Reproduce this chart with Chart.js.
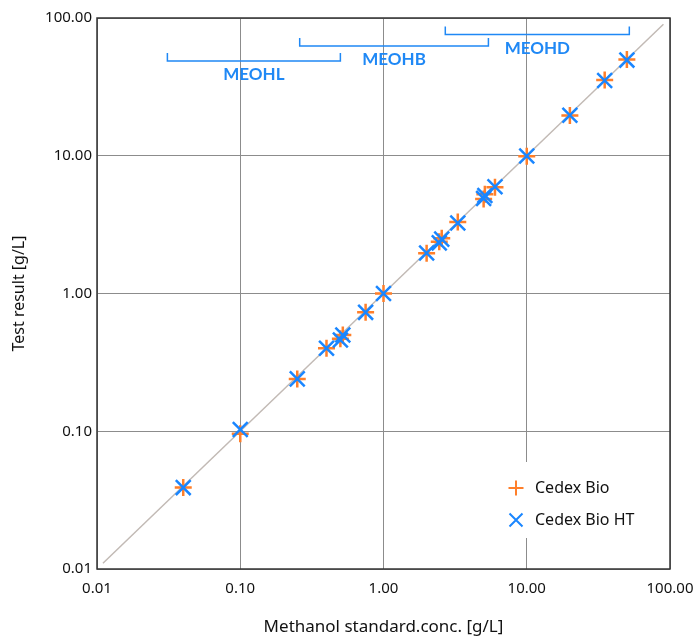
<!DOCTYPE html>
<html>
<head>
<meta charset="utf-8">
<script src="https://cdn.jsdelivr.net/npm/chart.js@4.4.0/dist/chart.umd.min.js"></script>
<style>
  html, body { margin: 0; padding: 0; background: #fff; }
  #wrap { width: 697px; height: 637px; }
</style>
</head>
<body>
<div id="wrap"><canvas id="myChart"></canvas></div>
<script>
// standard concentrations (x) and measured results (y) per analyser
const bioStandard = [0.04, 0.1, 0.25, 0.4, 0.5, 0.52, 0.75, 1, 2, 2.45, 2.55, 3.3, 5, 5.1, 6, 10, 20, 35, 50];
const bioResult   = [0.039, 0.096, 0.24, 0.40, 0.47, 0.50, 0.73, 1.0, 1.96, 2.38, 2.52, 3.3, 4.85, 5.25, 5.9, 9.9, 19.6, 35.5, 50];
const htStandard  = [0.04, 0.1, 0.25, 0.4, 0.5, 0.52, 0.75, 1, 2, 2.45, 2.55, 3.3, 5, 5.1, 6, 10, 20, 35, 50];
const htResult    = [0.039, 0.103, 0.24, 0.40, 0.46, 0.50, 0.73, 1.0, 1.97, 2.33, 2.48, 3.25, 4.9, 5.15, 5.95, 9.95, 19.7, 35.2, 49.5];

// identity line y = x
const identityX = [0.011, 90];

// decade ticks, shared by both axes
const tickValues = [0.01, 0.1, 1, 10, 100];
const tickLabels = ["0.01", "0.10", "1.00", "10.00", "100.00"];

// measuring ranges shown as brackets at the top
const rangeNames = ["MEOHL", "MEOHB", "MEOHD"];
const rangeFrom  = [0.031, 0.26, 2.7];
const rangeTo    = [0.5, 5.4, 52];

const ORANGE = "#ff7f2a";
const BLUE = "#1a86ff";
const RANGE_BLUE = "#1f88f5";
const FONT = "'Noto Sans', 'Liberation Sans', sans-serif";

const toPoints = (xs, ys) => xs.map((x, i) => ({ x: x, y: ys[i] }));

const decadeTicks = (scale) => {
    scale.ticks = tickValues.map((v) => ({ value: v }));
};
const tickText = (value) => {
    const idx = tickValues.findIndex((v) => Math.abs(v - value) < v * 1e-6);
    return idx >= 0 ? tickLabels[idx] : "";
};

// brackets + frame + legend
const overlayPlugin = {
    id: "overlay",
    afterDatasetsDraw(chart) {
        const { ctx, chartArea, scales } = chart;
        const lineOffsets = [43, 28, 16.5]; // px below chart top
        ctx.save();

        // range brackets
        ctx.strokeStyle = RANGE_BLUE;
        ctx.lineWidth = 1.5;
        ctx.fillStyle = RANGE_BLUE;
        ctx.font = "bold 17px Lato, 'Open Sans', sans-serif";
        ctx.textAlign = "center";
        ctx.textBaseline = "middle";
        rangeNames.forEach((name, i) => {
            const x1 = scales.x.getPixelForValue(rangeFrom[i]);
            const x2 = scales.x.getPixelForValue(rangeTo[i]);
            const y = chartArea.top + lineOffsets[i];
            ctx.beginPath();
            ctx.moveTo(x1, y - 8);
            ctx.lineTo(x1, y);
            ctx.lineTo(x2, y);
            ctx.lineTo(x2, y - 8);
            ctx.stroke();
            ctx.fillText(name, (x1 + x2) / 2, y + 14);
        });

        // legend box
        const lx = chartArea.right - 165;
        const ly = chartArea.bottom - 107;
        ctx.fillStyle = "#fff";
        ctx.fillRect(lx, ly, 160, 76);
        const items = [
            { label: "Cedex Bio", color: ORANGE, rot: false },
            { label: "Cedex Bio HT", color: BLUE, rot: true },
        ];
        items.forEach((it, i) => {
            const cx = lx + 11;
            const cy = ly + 26 + i * 32;
            ctx.strokeStyle = it.color;
            ctx.lineWidth = 2;
            ctx.beginPath();
            if (it.rot) {
                const r = 6.5;
                ctx.moveTo(cx - r, cy - r);
                ctx.lineTo(cx + r, cy + r);
                ctx.moveTo(cx - r, cy + r);
                ctx.lineTo(cx + r, cy - r);
            } else {
                const r = 7.5;
                ctx.moveTo(cx - r, cy);
                ctx.lineTo(cx + r, cy);
                ctx.moveTo(cx, cy - r);
                ctx.lineTo(cx, cy + r);
            }
            ctx.stroke();
            ctx.fillStyle = "#111";
            ctx.font = "16px " + FONT;
            ctx.textAlign = "left";
            ctx.textBaseline = "middle";
            ctx.fillText(it.label, cx + 19, cy);
        });

        // plot frame
        ctx.strokeStyle = "#333";
        ctx.lineWidth = 1.5;
        ctx.strokeRect(chartArea.left, chartArea.top,
            chartArea.right - chartArea.left, chartArea.bottom - chartArea.top);
        ctx.restore();
    },
};

const initChart = () => {
    const ctx = document.getElementById("myChart").getContext("2d");

    new Chart(ctx, {
        type: "scatter",
        data: {
            datasets: [
                {
                    label: "Cedex Bio",
                    data: toPoints(bioStandard, bioResult),
                    pointStyle: "cross",
                    pointRadius: 8.5,
                    pointBorderWidth: 2.5,
                    borderColor: ORANGE,
                    backgroundColor: ORANGE,
                    order: 2,
                },
                {
                    type: "scatter",
                    label: "Cedex Bio HT",
                    data: toPoints(htStandard, htResult),
                    pointStyle: "crossRot",
                    pointRadius: 10.5,
                    pointBorderWidth: 2.5,
                    borderColor: BLUE,
                    backgroundColor: BLUE,
                    order: 1,
                },
                {
                    type: "line",
                    label: "identity",
                    data: toPoints(identityX, identityX),
                    borderColor: "#c2bab5",
                    borderWidth: 1.5,
                    pointRadius: 0,
                    order: 3,
                },
            ],
        },
        options: {
            responsive: true,
            maintainAspectRatio: false,
            animation: false,
            layout: { padding: { left: 0, right: 27, top: 18, bottom: 0 } },
            plugins: {
                legend: { display: false },
                tooltip: { enabled: false },
            },
            scales: {
                x: {
                    type: "logarithmic",
                    min: 0.01,
                    max: 100,
                    afterBuildTicks: decadeTicks,
                    afterFit: (scale) => {
                        scale.height = 68;
                        scale.paddingLeft = 0;
                        scale.paddingRight = 0;
                    },
                    ticks: {
                        callback: tickText,
                        color: "#111",
                        font: { family: FONT, size: 15 },
                        padding: 11,
                        maxRotation: 0,
                    },
                    grid: { color: "#8c8c8c", lineWidth: 1, drawTicks: false },
                    border: { display: false },
                    title: {
                        display: true,
                        text: "Methanol standard.conc. [g/L]",
                        color: "#111",
                        font: { family: FONT, size: 17 },
                        padding: { top: 0, bottom: 0 },
                    },
                },
                y: {
                    type: "logarithmic",
                    min: 0.01,
                    max: 100,
                    afterBuildTicks: decadeTicks,
                    afterFit: (scale) => {
                        scale.width = 97;
                        scale.paddingTop = 0;
                        scale.paddingBottom = 0;
                    },
                    ticks: {
                        callback: tickText,
                        color: "#111",
                        font: { family: FONT, size: 15 },
                        padding: 5,
                    },
                    grid: { color: "#8c8c8c", lineWidth: 1, drawTicks: false },
                    border: { display: false },
                    title: {
                        display: true,
                        text: "Test result [g/L]",
                        color: "#111",
                        font: { family: FONT, size: 16 },
                        padding: { top: 10, bottom: 0 },
                    },
                },
            },
        },
        plugins: [overlayPlugin],
    });
};

document.addEventListener("DOMContentLoaded", initChart);
</script>
</body>
</html>
